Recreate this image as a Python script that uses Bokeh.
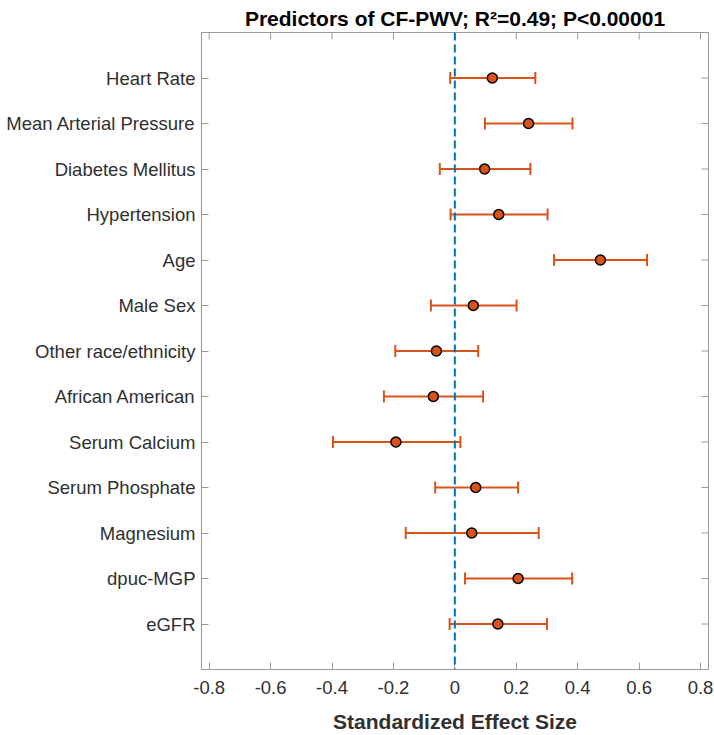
import math
from bokeh.plotting import figure
from bokeh.models import (Whisker, TeeHead, Span, FixedTicker, ColumnDataSource, Range1d)
from bokeh.embed import file_html
from bokeh.resources import INLINE

categories = ["Heart Rate", "Mean Arterial Pressure", "Diabetes Mellitus", "Hypertension",
              "Age", "Male Sex", "Other race/ethnicity", "African American", "Serum Calcium",
              "Serum Phosphate", "Magnesium", "dpuc-MGP", "eGFR"]
estimate = [0.122, 0.240, 0.097, 0.143, 0.474, 0.060, -0.060, -0.070, -0.192, 0.068, 0.055, 0.206, 0.140]
lower = [-0.015, 0.098, -0.049, -0.014, 0.323, -0.078, -0.194, -0.231, -0.397, -0.064, -0.160, 0.033, -0.017]
upper = [0.262, 0.383, 0.246, 0.302, 0.626, 0.201, 0.076, 0.092, 0.018, 0.206, 0.273, 0.382, 0.300]
x_ticks = [-0.8, -0.6, -0.4, -0.2, 0, 0.2, 0.4, 0.6, 0.8]

FONT = "Liberation Sans"
TXT = "#303030"
AX = "#9a9a9a"
ORANGE = "#D95319"

n = len(categories)
ypos = [n - i for i in range(n)]  # first category at the top
src = ColumnDataSource(dict(y=ypos, est=estimate, lo=lower, hi=upper))

xr = Range1d(-0.825, 0.826)
yr = Range1d(0, n + 1)

p = figure(width=714, height=735, output_backend="svg", toolbar_location=None,
           x_range=xr, y_range=yr,
           title="Predictors of CF-PWV; R²=0.49; P<0.00001",
           min_border_left=201, min_border_right=6, min_border_top=32, min_border_bottom=66,
           x_axis_label="Standardized Effect Size")

p.title.align = "center"
p.title.text_font = FONT
p.title.text_font_size = "21px"
p.title.text_font_style = "bold"
p.title.text_color = "black"
p.title.standoff = 6
p.title.offset = 0

p.xgrid.visible = False
p.ygrid.visible = False
p.outline_line_color = AX
p.outline_line_width = 1

ax = p.xaxis[0]
ax.ticker = FixedTicker(ticks=x_ticks)
ax.major_label_overrides = {t: ("0" if t == 0 else f"{t:.1f}") for t in x_ticks}
ax.major_tick_in = 7
ax.major_tick_out = 0
ax.minor_tick_in = 0
ax.minor_tick_out = 0
ax.axis_line_color = AX
ax.major_tick_line_color = AX
ax.major_label_text_font = FONT
ax.major_label_text_font_size = "18.5px"
ax.major_label_text_color = TXT
ax.major_label_standoff = 11
ax.major_label_text_line_height = 1.0
ax.axis_label_text_font = FONT
ax.axis_label_text_font_size = "21px"
ax.axis_label_text_font_style = "bold"
ax.axis_label_text_color = TXT
ax.axis_label_text_line_height = 1.0
ax.axis_label_standoff = 13

ay = p.yaxis[0]
ay.ticker = FixedTicker(ticks=ypos)
ay.major_label_overrides = {y: c for y, c in zip(ypos, categories)}
ay.major_tick_in = 7
ay.major_tick_out = 0
ay.minor_tick_in = 0
ay.minor_tick_out = 0
ay.axis_line_color = AX
ay.major_tick_line_color = AX
ay.major_label_text_font = FONT
ay.major_label_text_font_size = "18.5px"
ay.major_label_text_color = TXT
ay.major_label_standoff = 6

# inner tick marks on the top and right edges (half of each dash is clipped by the frame)
p.scatter(x=x_ticks, y=[yr.end] * len(x_ticks), marker="dash", angle=math.pi / 2,
          size=14, line_color=AX, line_width=1)
p.scatter(x=[xr.end] * n, y=ypos, marker="dash", size=14, line_color=AX, line_width=1)

p.add_layout(Span(location=0, dimension="height", line_color="#0072BD",
                  line_width=2, line_dash="8 4"))

w = Whisker(source=src, base="y", lower="lo", upper="hi", dimension="width",
            line_color=ORANGE, line_width=2,
            lower_head=TeeHead(size=12, line_color=ORANGE, line_width=2),
            upper_head=TeeHead(size=12, line_color=ORANGE, line_width=2))
p.add_layout(w)

p.scatter(x="est", y="y", source=src, size=10, fill_color=ORANGE,
          line_color="black", line_width=1.5)

open("out.html", "w").write(file_html(p, INLINE))
